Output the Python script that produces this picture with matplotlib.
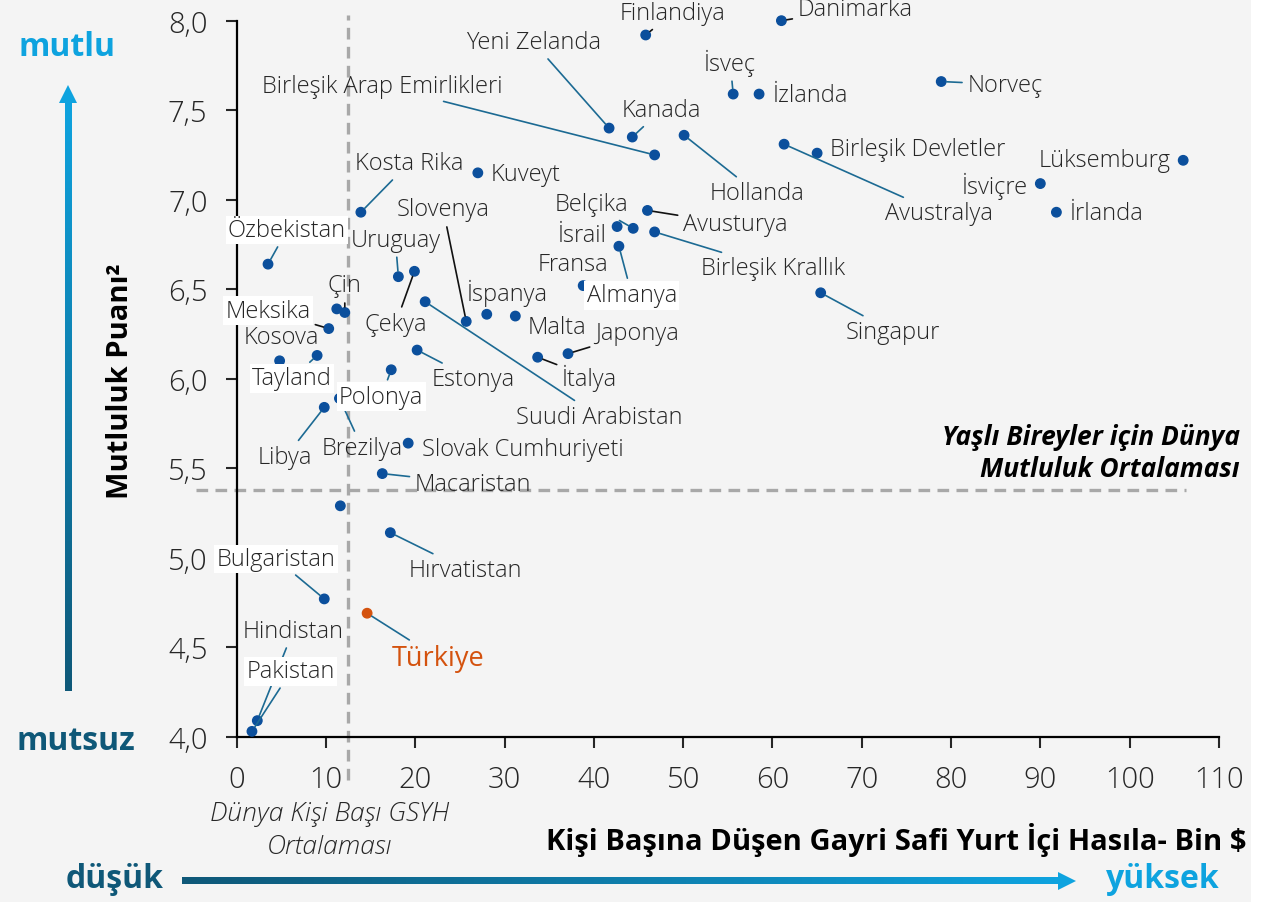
#!/usr/bin/python3
# coding: utf-8

'''
Happiness score vs GDP per capita scatter (Turkish labels)
'''

import matplotlib.pyplot as plt
import numpy as np
from matplotlib.colors import LinearSegmentedColormap
from matplotlib.patches import Polygon, Rectangle

plt.rcParams['font.family'] = ['Open Sans', 'DejaVu Sans']

countries = ['Danimarka', 'Finlandiya', 'Yeni Zelanda', 'Kanada', 'Birleşik Arap Emirlikleri',
             'Hollanda', 'İsveç', 'İzlanda', 'Norveç', 'Birleşik Devletler', 'Avustralya',
             'Lüksemburg', 'İsviçre', 'İrlanda', 'Kuveyt', 'Kosta Rika', 'Özbekistan',
             'Uruguay', 'Çekya', 'Slovenya', 'Çin', '', 'Meksika', 'Kosova', 'Tayland',
             'Libya', 'Brezilya', 'Polonya', 'Slovak Cumhuriyeti', 'Macaristan', '',
             'Hırvatistan', 'Bulgaristan', 'Türkiye', 'Hindistan', 'Pakistan', 'Avusturya',
             'Belçika', 'İsrail', 'Birleşik Krallık', 'Almanya', 'Fransa', 'İspanya', 'Malta',
             'Japonya', 'İtalya', 'Estonya', 'Suudi Arabistan', 'Singapur']
gdp = [61.0, 45.8, 41.7, 44.3, 46.8, 50.1, 55.6, 58.5, 78.9, 65.0, 61.3,
       106.0, 90.0, 91.8, 27.0, 13.9, 3.5, 18.1, 19.9, 25.7, 12.1, 11.2, 10.3, 4.8, 9.0,
       9.8, 11.5, 17.3, 19.2, 16.3, 11.6, 17.2, 9.8, 14.6, 2.3, 1.7, 46.0,
       44.4, 42.6, 46.8, 42.8, 38.8, 28.0, 31.2, 37.1, 33.7, 20.2, 21.1, 65.4]
happiness = [8.00, 7.92, 7.40, 7.35, 7.25, 7.36, 7.59, 7.59, 7.66, 7.26, 7.31,
             7.22, 7.09, 6.93, 7.15, 6.93, 6.64, 6.57, 6.60, 6.32, 6.37, 6.39, 6.28, 6.10, 6.13,
             5.84, 5.89, 6.05, 5.64, 5.47, 5.29, 5.14, 4.77, 4.69, 4.09, 4.03, 6.94,
             6.84, 6.85, 6.82, 6.74, 6.52, 6.36, 6.35, 6.14, 6.12, 6.16, 6.43, 6.48]

world_gdp_avg = 12.5
world_happiness_avg = 5.38

x_ticks = [0, 10, 20, 30, 40, 50, 60, 70, 80, 90, 100, 110]
y_ticks = [4.0, 4.5, 5.0, 5.5, 6.0, 6.5, 7.0, 7.5, 8.0]
y_tick_labels = ['4,0', '4,5', '5,0', '5,5', '6,0', '6,5', '7,0', '7,5', '8,0']

# label layout: offset in pixels (dx, dy), leader line colour (None = no line), white box
TEAL = '#1c6a93'
BLACK = '#111111'
layout = {
    'Danimarka': (74, 12, BLACK, False), 'Finlandiya': (27, 22, BLACK, False),
    'Yeni Zelanda': (-76, 86, TEAL, False), 'Kanada': (29, 27, TEAL, False),
    'Birleşik Arap Emirlikleri': (-272, 69, TEAL, False), 'Hollanda': (73, -58, TEAL, False),
    'İsveç': (-3, 32, TEAL, False), 'İzlanda': (51, -1, None, False),
    'Norveç': (64, -3, TEAL, False), 'Birleşik Devletler': (101, 4, None, False),
    'Avustralya': (155, -69, TEAL, False), 'Lüksemburg': (-79, 0, None, False),
    'İsviçre': (-46, -2, None, False), 'İrlanda': (50, -1, None, False),
    'Kuveyt': (48, -1, None, False), 'Kosta Rika': (48, 49, TEAL, False),
    'Özbekistan': (19, 34, TEAL, True), 'Uruguay': (-3, 37, TEAL, False),
    'Çekya': (-19, -53, BLACK, False), 'Slovenya': (-23, 112, BLACK, False),
    'Çin': (0, 27, BLACK, False), 'Meksika': (-61, 18, BLACK, True),
    'Kosova': (2, 24, None, False), 'Tayland': (-25, -23, TEAL, True),
    'Libya': (-39, -50, TEAL, False), 'Brezilya': (23, -50, TEAL, False),
    'Polonya': (-10, -27, TEAL, True), 'Slovak Cumhuriyeti': (115, -6, None, False),
    'Macaristan': (91, -10, TEAL, False), 'Hırvatistan': (75, -37, TEAL, False),
    'Bulgaristan': (-48, 40, TEAL, True), 'Türkiye': (71, -45, TEAL, False),
    'Hindistan': (36, 90, TEAL, False), 'Pakistan': (39, 60, TEAL, True),
    'Avusturya': (88, -14, BLACK, False), 'Belçika': (-42, 24, TEAL, False),
    'İsrail': (-35, -8, None, False), 'Birleşik Krallık': (118, -36, TEAL, False),
    'Almanya': (13, -49, TEAL, True), 'Fransa': (-10, 22, None, False),
    'İspanya': (20, 22, None, False), 'Malta': (42, -11, None, False),
    'Japonya': (69, 21, BLACK, False), 'İtalya': (52, -20, BLACK, False),
    'Estonya': (56, -29, TEAL, False), 'Suudi Arabistan': (174, -115, TEAL, False),
    'Singapur': (72, -39, TEAL, False),
}

BG = '#f4f4f4'
DOT = '#0b4f9c'
ORANGE = '#d4520e'
DARK = '#0f5878'
LIGHT = '#0ea3df'
GRAY = '#a8a8a8'
TXT = '#262626'

fig = plt.figure(figsize=(12.75, 9.03), dpi=100, facecolor=BG)
ax = fig.add_axes([0.1857, 0.183, 0.7703, 0.793])
ax.set_facecolor(BG)
ax.set_zorder(2)

colors = [ORANGE if c == 'Türkiye' else DOT for c in countries]
ax.scatter(gdp, happiness, s=46, c=colors, zorder=4, clip_on=False)

ax.set_xlim(0, 110)
ax.set_ylim(4.0, 8.0)
ax.set_xticks(x_ticks)
ax.set_yticks(y_ticks)
ax.set_yticklabels(y_tick_labels)
for side in ['top', 'right']:
    ax.spines[side].set_visible(False)
for side in ['left', 'bottom']:
    ax.spines[side].set_linewidth(1.6)
ax.tick_params(direction='out', length=8, width=1.5, labelsize=21, colors=TXT)
ax.tick_params(axis='x', pad=12)
ax.tick_params(axis='y', pad=13)
for lbl in ax.get_xticklabels() + ax.get_yticklabels():
    lbl.set_fontweight('light')

# reference lines
ax.plot([world_gdp_avg, world_gdp_avg], [3.76, 8.03], ls=(0, (3.5, 2.2)), lw=2.4,
        color=GRAY, clip_on=False, zorder=2)
ax.plot([-4.6, 106.3], [world_happiness_avg, world_happiness_avg], ls=(0, (3.5, 2.2)), lw=2.4,
        color=GRAY, clip_on=False, zorder=2)

for name, x, y in zip(countries, gdp, happiness):
    if not name:
        continue
    dx, dy, line_color, boxed = layout[name]
    kw = dict(xy=(x, y), xytext=(dx, dy), textcoords='offset pixels', ha='center', va='center',
              fontsize=17, fontweight='light', color=TXT, zorder=5, annotation_clip=False)
    if name == 'Türkiye':
        kw.update(color=ORANGE, fontsize=19.5, fontweight='normal')
    if boxed:
        kw['bbox'] = dict(boxstyle='square,pad=0.1', fc='white', ec='none')
    if line_color:
        kw['arrowprops'] = dict(arrowstyle='-', color=line_color, lw=1.2, shrinkA=2, shrinkB=4)
    ax.annotate(name, **kw)

ax.text(1.021, 0.397, 'Yaşlı Bireyler için Dünya\nMutluluk Ortalaması', transform=ax.transAxes,
        ha='right', va='center', fontsize=19, fontweight='bold', style='italic',
        linespacing=1.2, zorder=5)

# overlay in figure pixels for the gradient arrows and side labels
ov = fig.add_axes([0, 0, 1, 1])
ov.axis('off')
ov.set_zorder(1)
ov.patch.set_alpha(0)

cmap = LinearSegmentedColormap.from_list('grad', [DARK, LIGHT])
ov.imshow(np.linspace(1, 0, 256)[:, None], cmap=cmap, aspect='auto',
          extent=(64.5, 71.5, 692, 102), origin='upper', interpolation='bilinear')
ov.imshow(np.linspace(0, 1, 256)[None, :], cmap=cmap, aspect='auto',
          extent=(182, 1060, 885.5, 878.5), origin='upper', interpolation='bilinear')
ov.add_patch(Polygon([(59, 104), (77, 104), (68, 86)], closed=True, fc=LIGHT, ec='none'))
ov.add_patch(Polygon([(1058, 873), (1058, 891), (1076, 882)], closed=True, fc=LIGHT, ec='none'))
ov.add_patch(Rectangle((1251, 0), 24, 903, fc='white', ec='none'))
ov.set_xlim(0, 1275)
ov.set_ylim(903, 0)

ov.text(67, 47, 'mutlu', ha='center', va='center', fontsize=23, fontweight='bold', color=LIGHT)
ov.text(76, 742, 'mutsuz', ha='center', va='center', fontsize=23, fontweight='bold', color=DARK)
ov.text(115, 880, 'düşük', ha='center', va='center', fontsize=23, fontweight='bold', color=DARK)
ov.text(1163, 880, 'yüksek', ha='center', va='center', fontsize=23, fontweight='bold',
        color=LIGHT)
ov.text(120, 381, 'Mutluluk Puanı²', ha='center', va='center', rotation=90, fontsize=21,
        fontweight='bold', color='black')
ov.text(1246, 840, 'Kişi Başına Düşen Gayri Safi Yurt İçi Hasıla- Bin $', ha='right',
        va='center', fontsize=21, fontweight='bold', color='black')
ov.text(330, 831, 'Dünya Kişi Başı GSYH\nOrtalaması', ha='center', va='center', fontsize=19,
        style='italic', fontweight='light', linespacing=1.38, color=TXT)

plt.savefig('out.png', dpi=100, facecolor=BG)
plt.close()
